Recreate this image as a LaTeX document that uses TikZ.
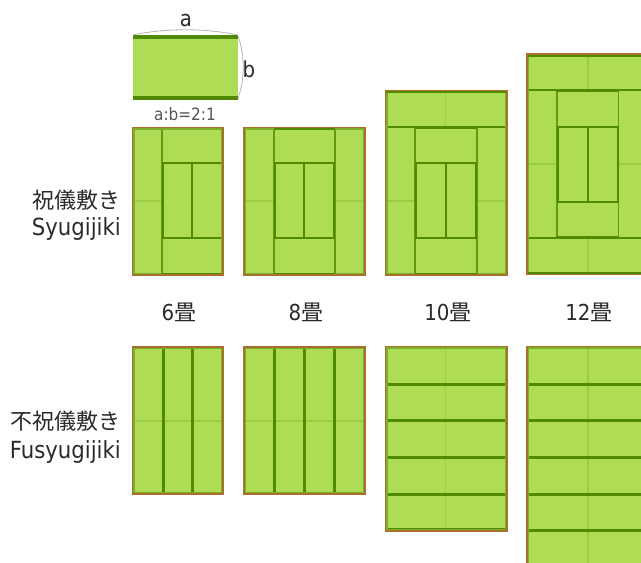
\documentclass[tikz,border=0pt]{standalone}
\usepackage{fontspec}
\setmainfont{DejaVu Sans Condensed}
\newfontfamily\jpfont{Noto Sans CJK JP}
\definecolor{mat}{HTML}{AEDD55}
\definecolor{heri}{HTML}{4F8A00}
\definecolor{edgeg}{HTML}{5F9A10}
\definecolor{seam}{HTML}{9CCB45}
\definecolor{wall}{HTML}{A8702A}
\definecolor{innerg}{HTML}{7DB02A}
\definecolor{txt}{HTML}{2A2A2A}
\tikzset{
  herili/.style={draw=heri,line width=3pt},
  boxli/.style={draw=heri,line width=2pt},
  edgeli/.style={draw=edgeg,line width=1.5pt},
  seamli/.style={draw=seam,line width=1.1pt},
  wallli/.style={draw=wall,line width=1.5pt},
  innerli/.style={draw=innerg,line width=1.2pt},
  brace/.style={draw=black!30,line width=.8pt},
  biglabel/.style={text=txt,inner sep=0pt,font=\fontsize{22}{26}\selectfont},
  ratiolabel/.style={text=txt!80,inner sep=0pt,font=\fontsize{17}{20}\selectfont},
  jplabel/.style={text=txt,inner sep=0pt,align=center,font=\fontsize{22}{26}\selectfont},
  latinlabel/.style={text=txt,inner sep=0pt,font=\fontsize{23.6}{28}\selectfont},
}
\begin{document}
\begin{tikzpicture}[x=1pt,y=-1pt]
\useasboundingbox (0,0) rectangle (641,563);
\clip (0,0) rectangle (641,563);
% sample mat
\fill[mat] (133,36) rectangle (238,99);
\draw[herili,line width=3.4pt] (133,37) -- (238,37);
\draw[herili,line width=3.4pt] (133,98) -- (238,98);
\draw[brace] (133,35) .. controls (165,28) and (205,28) .. (238,35);
\draw[brace] (238,36) .. controls (245,54) and (245,80) .. (238,98);
\node[biglabel] (la) at (186,20) {a};
\node[biglabel] (lb) at (249,69) {b};
\node[ratiolabel] (lr) at (185,114) {a:b=2:1};
% --- Syugijiki 6
\fill[mat] (132.5,127.5) rectangle (223,275);
\draw[seamli] (132.5,201) -- (162,201);
\draw[edgeli] (162,127.5) -- (162,275);
\draw[boxli] (163,163) rectangle (222,238) (192,163) -- (192,238);
\draw[innerli] (134,129) rectangle (221.5,273.5);
\draw[boxli] (162,274) -- (222,274);
\draw[wallli] (132.5,127.5) rectangle (223,275);
% --- Syugijiki 8
\fill[mat] (244,127.5) rectangle (365,275);
\draw[seamli] (244,201) -- (274,201) (335,201) -- (365,201);
\draw[edgeli] (274,127.5) -- (274,275) (335,127.5) -- (335,275);
\draw[boxli] (275,163) rectangle (334,238) (304,163) -- (304,238);
\draw[innerli] (245.5,129) rectangle (363.5,273.5);
\draw[boxli] (274,129) -- (335,129) (274,274) -- (335,274);
\draw[wallli] (244,127.5) rectangle (365,275);
% --- Syugijiki 10
\fill[mat] (385.5,90.5) rectangle (507,275);
\draw[seamli] (445.5,90.5) -- (445.5,127) (385.5,201) -- (415,201) (477,201) -- (507,201);
\draw[edgeli] (415,127) -- (415,275) (477,127) -- (477,275);
\draw[boxli] (385.5,127) -- (507,127) (416,163) rectangle (476,238) (446,163) -- (446,238) (415,128) -- (477,128);
\draw[innerli] (387,92) rectangle (505.5,273.5);
\draw[boxli] (385.5,92) -- (507,92) (415,274) -- (477,274);
\draw[wallli] (385.5,90.5) rectangle (507,275);
% --- Syugijiki 12
\fill[mat] (527,54) rectangle (660,274.5);
\draw[seamli] (588,54) -- (588,90) (588,238) -- (588,274.5) (527,164) -- (557,164) (619,164) -- (660,164);
\draw[edgeli] (557,90) -- (557,238) (618.5,90) -- (618.5,238);
\draw[boxli] (527,90) -- (660,90) (527,238) -- (660,238) (558,127) rectangle (618,202) (588,127) -- (588,202) (557,91) -- (619,91) (557,237) -- (619,237);
\draw[innerli] (528.5,55.5) rectangle (670,273);
\draw[boxli] (527,56) -- (660,56) (527,273) -- (660,273);
\draw[wallli] (527,54) rectangle (670,274.5);
% --- Fusyugijiki 6
\fill[mat] (132.5,347) rectangle (223,494);
\draw[seamli] (132.5,421) -- (223,421);
\draw[herili] (163.5,347) -- (163.5,494) (192.5,347) -- (192.5,494);
\draw[innerli] (134,348.5) rectangle (221.5,492.5);
\draw[wallli] (132.5,347) rectangle (223,494);
% --- Fusyugijiki 8
\fill[mat] (244,347) rectangle (365,494);
\draw[seamli] (244,421) -- (365,421);
\draw[herili] (274.5,347) -- (274.5,494) (304.5,347) -- (304.5,494) (334.5,347) -- (334.5,494);
\draw[innerli] (245.5,348.5) rectangle (363.5,492.5);
\draw[wallli] (244,347) rectangle (365,494);
% --- Fusyugijiki 10
\fill[mat] (385.5,346.5) rectangle (507,531);
\draw[seamli] (445.5,346.5) -- (445.5,531);
\draw[herili] (385.5,384.5) -- (507,384.5) (385.5,420.5) -- (507,420.5) (385.5,457.5) -- (507,457.5) (385.5,494.5) -- (507,494.5) (385.5,529.5) -- (507,529.5);
\draw[innerli] (387,348) rectangle (505.5,529.5);
\draw[wallli] (385.5,346.5) rectangle (507,531);
% --- Fusyugijiki 12
\fill[mat] (527,346.5) rectangle (660,580);
\draw[seamli] (588,346.5) -- (588,580);
\draw[herili] (527,384.5) -- (660,384.5) (527,420.5) -- (660,420.5) (527,457.5) -- (660,457.5) (527,494.5) -- (660,494.5) (527,530.5) -- (660,530.5);
\draw[innerli] (528.5,348) rectangle (670,590);
\draw[wallli] (527,346.5) rectangle (670,590);
% labels
\node[jplabel] (s6) at (179,312) {6\jpfont 畳};
\node[jplabel] (s8) at (306,312) {8\jpfont 畳};
\node[jplabel] (s10) at (448,312) {10\jpfont 畳};
\node[jplabel] (s12) at (589,312) {12\jpfont 畳};
\node[jplabel,anchor=east] (sy1) at (121,200) {\jpfont 祝儀敷き};
\node[latinlabel,anchor=east] (sy2) at (121,229) {Syugijiki};
\node[jplabel,anchor=east] (fu1) at (121,421) {\jpfont 不祝儀敷き};
\node[latinlabel,anchor=east] (fu2) at (121,452) {Fusyugijiki};
\end{tikzpicture}
\end{document}
